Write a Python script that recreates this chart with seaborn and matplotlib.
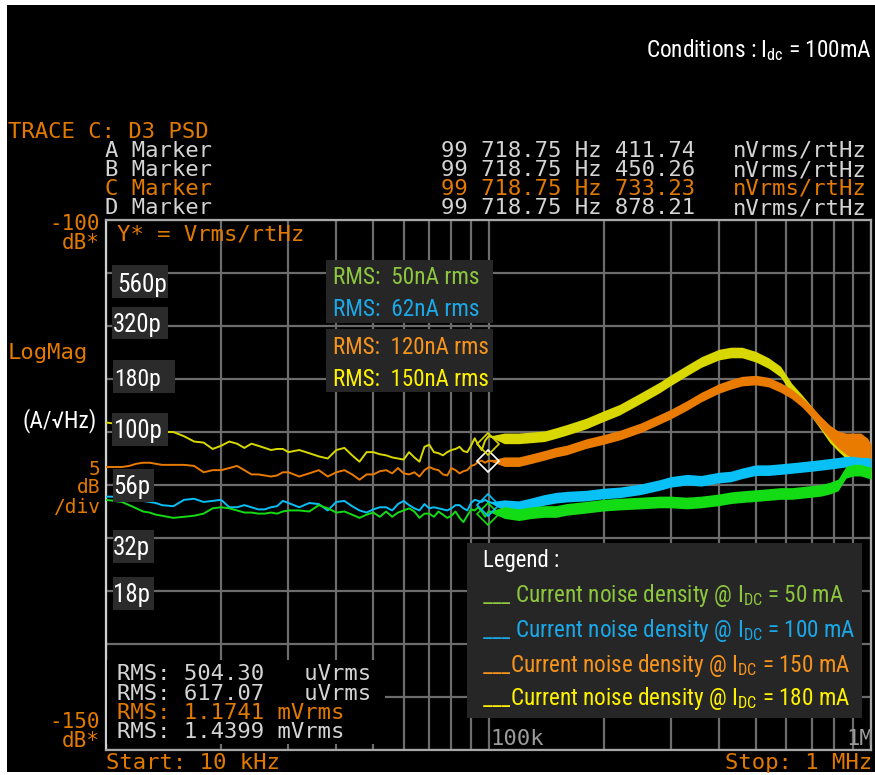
import matplotlib
matplotlib.use("Agg")
import numpy as np
import pandas as pd
import seaborn as sns
import matplotlib.pyplot as plt
from matplotlib.patches import Rectangle
from matplotlib.ticker import FixedLocator
from matplotlib import font_manager as fm

# ---------------- data ----------------
freq_low_khz = [10, 10.5, 11, 11.5, 12, 12.5, 13, 13.5, 14, 15, 16, 17, 18, 19, 20, 21, 22, 23, 24, 25,
                26, 27, 28, 29, 30, 32, 34, 36, 38, 40, 42, 44, 46, 48, 50, 52, 54, 56, 58, 60,
                62, 64, 66, 68, 70, 72, 74, 76, 78, 80, 82, 84, 86, 88, 90, 92, 94, 96, 98, 100]
freq_high_khz = [110, 120, 130, 140, 150, 160, 180, 200, 220, 250, 280, 300, 330, 360, 400, 430,
                 460, 500, 540, 580, 620, 660, 700, 740, 780, 820, 860, 900, 940, 980, 1000]

# trace D (180 mA, yellow), dB Vrms/rtHz
yellow_low_db = [-119.1, -119.2, -119.3, -119.5, -119.6, -119.7, -119.8, -119.9, -120.0, -120.0,
                 -120.4, -120.9, -121.0, -121.6, -121.3, -120.9, -121.1, -121.5, -121.1, -121.3,
                 -121.5, -121.7, -121.6, -121.6, -121.9, -121.7, -122.0, -122.3, -122.5, -121.7,
                 -121.5, -122.2, -122.8, -121.9, -121.9, -122.1, -122.2, -122.4, -122.5, -122.6,
                 -121.9, -122.4, -122.8, -121.4, -121.2, -121.9, -122.0, -122.2, -121.9, -121.7,
                 -121.6, -121.4, -121.8, -121.9, -121.3, -120.6, -121.2, -121.7, -120.8, -120.4]
yellow_high_db = [-120.6, -120.6, -120.5, -120.4, -120.1, -119.8, -119.2, -118.5, -117.9, -116.8,
                  -115.8, -115.1, -114.2, -113.4, -112.7, -112.5, -112.5, -112.9, -113.5, -114.3,
                  -115.9, -117.0, -118.1, -119.3, -120.5, -121.3, -122.0, -122.5, -122.9, -123.3, -123.6]
yellow_spread_db = 0.5

# trace C (150 mA, orange)
orange_low_db = [-123.3, -123.3, -123.3, -123.2, -123.0, -122.9, -122.9, -123.0, -123.1, -123.1,
                 -123.1, -123.2, -123.8, -123.6, -123.6, -123.4, -123.2, -123.6, -124.0, -124.0,
                 -124.1, -124.2, -124.1, -123.8, -123.8, -124.2, -123.9, -123.6, -124.2, -123.8,
                 -123.6, -124.0, -124.5, -124.0, -124.0, -123.7, -123.6, -123.9, -123.4, -123.9,
                 -124.0, -123.8, -124.2, -123.6, -123.3, -123.5, -123.6, -124.0, -124.1, -123.4,
                 -123.6, -123.9, -123.7, -123.6, -123.2, -123.1, -122.8, -122.7, -122.9, -122.7]
orange_high_db = [-122.8, -122.8, -122.5, -122.2, -121.9, -121.7, -121.1, -120.7, -120.3, -119.6,
                  -118.8, -118.3, -117.5, -116.7, -115.9, -115.5, -115.2, -115.1, -115.3, -115.8,
                  -116.4, -117.2, -118.1, -119.1, -120.0, -120.7, -121.1, -121.3, -121.4, -121.9, -122.5]
orange_spread_db = [0.45] * 22 + [0.5, 0.55, 0.65, 0.8, 1.0, 1.2, 1.3, 1.3, 1.3]

# trace B (100 mA, blue)
blue_low_db = [-126.1, -126.1, -126.2, -126.3, -126.4, -126.5, -126.6, -126.7, -126.9, -127.0,
               -126.4, -126.3, -126.6, -126.5, -126.4, -127.1, -127.1, -126.9, -127.1, -127.3,
               -127.3, -127.1, -127.0, -126.5, -126.7, -127.1, -126.7, -126.8, -127.4, -126.6,
               -126.5, -127.0, -127.4, -127.6, -127.3, -127.1, -127.1, -127.4, -126.8, -126.5,
               -126.9, -127.2, -127.4, -126.8, -127.2, -127.1, -127.2, -127.3, -127.4, -127.2,
               -126.9, -126.9, -127.2, -127.4, -126.7, -126.4, -126.5, -126.6, -126.4, -126.6]
blue_high_db = [-126.9, -127.0, -126.7, -126.4, -126.2, -126.1, -126.0, -125.8, -125.7, -125.4,
                -125.0, -124.7, -124.5, -124.6, -124.3, -124.2, -123.9, -123.6, -123.6, -123.5,
                -123.4, -123.3, -123.2, -123.1, -123.0, -122.9, -122.8, -122.8, -122.9, -122.9, -123.0]
blue_spread_db = 0.5

# trace A (50 mA, green)
green_low_db = [-126.4, -126.5, -126.6, -126.9, -127.2, -127.5, -127.6, -127.8, -127.9, -128.1,
                -128.0, -127.9, -127.7, -127.2, -127.1, -127.2, -127.4, -127.6, -127.6, -127.7,
                -127.7, -127.6, -127.7, -127.5, -127.4, -127.4, -127.5, -126.9, -127.2, -127.6,
                -127.5, -127.8, -128.1, -127.8, -127.6, -128.0, -127.5, -128.0, -127.6, -127.4,
                -127.2, -127.5, -128.1, -127.7, -127.7, -128.0, -127.5, -127.8, -128.1, -127.9,
                -127.5, -128.1, -128.5, -127.9, -127.3, -127.4, -127.1, -127.5, -128.0, -127.5]
green_high_db = [-127.6, -127.8, -127.6, -127.5, -127.5, -127.3, -127.1, -126.9, -126.8, -126.7,
                 -126.6, -126.6, -126.7, -126.6, -126.4, -126.2, -126.1, -126.0, -125.9, -125.8,
                 -125.8, -125.7, -125.6, -125.5, -125.3, -125.0, -123.8, -123.6, -123.6, -123.8, -123.9]
green_spread_db = 0.55

marker_freq_hz = 99718.75
marker_names = ["A", "B", "C", "D"]
marker_nv = [411.74, 450.26, 733.23, 878.21]

y_labels = ["560p", "320p", "180p", "100p", "56p", "32p", "18p"]
rms_labels = ["RMS:  50nA rms", "RMS:  62nA rms", "RMS:  120nA rms", "RMS:  150nA rms"]
legend_currents = ["50 mA", "100 mA", "150 mA", "180 mA"]
marker_rows = [("A Marker", "99 718.75 Hz 411.74"), ("B Marker", "99 718.75 Hz 450.26"),
               ("C Marker", "99 718.75 Hz 733.23"), ("D Marker", "99 718.75 Hz 878.21")]
rms_rows = ["RMS: 504.30   uVrms", "RMS: 617.07   uVrms", "RMS: 1.1741 mVrms", "RMS: 1.4399 mVrms"]

# ---------------- fonts ----------------
sns.set_theme(style="dark")
_ttf = fm.fontManager.ttflist
_names = {f.name for f in _ttf}
NARROW_STRETCH = "normal"
if "Roboto Condensed" in _names:
    NARROW_MAIN = "Roboto Condensed"
elif "Liberation Sans Narrow" in _names:
    NARROW_MAIN = "Liberation Sans Narrow"
elif "Noto Sans Condensed" in _names:
    NARROW_MAIN = "Noto Sans Condensed"
elif any(f.name == "Noto Sans" and "condensed" in str(f.stretch) for f in _ttf):
    NARROW_MAIN, NARROW_STRETCH = "Noto Sans", "condensed"
else:
    NARROW_MAIN = "Liberation Sans"
NARROW = [NARROW_MAIN, "DejaVu Sans"]
MONO = ["DejaVu Sans Mono"]

ORANGE_TXT = "#e27a00"
WHITE_TXT = "#d4d4d4"
COL_Y, COL_O, COL_B, COL_G = "#d8d800", "#e87b00", "#08c0f5", "#14dc14"
TXT_G, TXT_B, TXT_O, TXT_Y = "#8dc63f", "#1ba8e8", "#f7941d", "#fff200"

fig = plt.figure(figsize=(8.75, 7.75), dpi=100, facecolor="black")
ax = fig.add_axes([106 / 875, 1 - 750 / 775, 765 / 875, 530 / 775])
ax.set_facecolor("black")

freq_hz = np.array(freq_low_khz + freq_high_khz) * 1e3
traces = [
    (yellow_low_db, yellow_high_db, yellow_spread_db, COL_Y),
    (orange_low_db, orange_high_db, orange_spread_db, COL_O),
    (blue_low_db, blue_high_db, blue_spread_db, COL_B),
    (green_low_db, green_high_db, green_spread_db, COL_G),
]
for i, (lo, hi, spr, col) in enumerate(traces):
    db = np.array(lo + hi)
    spread = np.concatenate([np.zeros(len(lo)), np.broadcast_to(np.asarray(spr, float), (len(hi),))])
    df = pd.DataFrame({"freq": freq_hz, "db": db})
    sns.lineplot(data=df, x="freq", y="db", ax=ax, color=col, linewidth=1.4,
                 estimator=None, sort=False, zorder=3 + i)
    ax.fill_between(freq_hz, db - spread, db + spread, color=col, linewidth=0, zorder=3 + i)

marker_db = 20 * np.log10(np.array(marker_nv) * 1e-9)
marker_cols = [COL_G, COL_B, "white", COL_Y]
for mdb, mc in zip(marker_db, marker_cols):
    ax.plot([marker_freq_hz], [mdb], marker="D", markersize=11, markerfacecolor="none",
            markeredgecolor=mc, markeredgewidth=1.2, zorder=9)

ax.set_xscale("log")
ax.set_xlim(1e4, 1e6)
ax.set_ylim(-150, -100)
ax.xaxis.set_major_locator(FixedLocator([1e4, 1e5, 1e6]))
ax.xaxis.set_minor_locator(FixedLocator([k * 10 ** e for e in (4, 5) for k in range(2, 10)]))
ax.yaxis.set_major_locator(FixedLocator(np.arange(-150, -99, 5)))
ax.grid(True, which="both", color="#6c6c6c", linewidth=1.6)
ax.set_axisbelow(True)
ax.tick_params(axis="x", which="both", length=0, labelbottom=False)
ax.tick_params(axis="y", which="both", length=4, width=1.2, color="#b0b0b0",
               direction="out", labelleft=False)
ax.set_xlabel("")
ax.set_ylabel("")
for side, sp in ax.spines.items():
    sp.set_visible(True)
    sp.set_color("#d0d0d0" if side == "left" else "#a8a8a8")
    sp.set_linewidth(1.6)

# ---------------- overlay in pixel coordinates ----------------
ov = fig.add_axes([0, 0, 1, 1], zorder=10)
ov.set_xlim(0, 875)
ov.set_ylim(775, 0)
ov.axis("off")
ov.patch.set_alpha(0)
renderer = fig.canvas.get_renderer()

def box(x, y, w, h, c):
    ov.add_patch(Rectangle((x, y), w, h, facecolor=c, edgecolor="none", zorder=1))

# white screenshot border
box(0, 0, 875, 5, "white")
box(0, 0, 7, 775, "white")
box(0, 772, 875, 3, "white")

def mono(x, y, s, c, ha="left", size=16):
    ov.text(x, y, s, color=c, family=MONO, fontsize=size, ha=ha, va="baseline", zorder=3)

def narrow(x, y, s, c, width, ha="left", size=17):
    t = ov.text(x, y, s, color=c, family=NARROW, fontstretch=NARROW_STRETCH, fontsize=size,
                ha=ha, va="baseline", zorder=3)
    w = t.get_window_extent(renderer=renderer).width
    if w > 0:
        t.set_fontsize(size * width / w)
    return t

# condition note
narrow(872, 57, r"Conditions : $\mathregular{I_{dc}}$ = 100mA", "white", 226, ha="right", size=18)

# instrument header
mono(8, 138, "TRACE C: D3 PSD", ORANGE_TXT)
row_cols = [WHITE_TXT, WHITE_TXT, ORANGE_TXT, WHITE_TXT]
for k, ((lab, val), rc) in enumerate(zip(marker_rows, row_cols)):
    yb = 157 + 19 * k
    mono(105, yb, lab, rc)
    mono(441, yb, val, rc)
    mono(733, yb, "nVrms/rtHz", rc)

# left instrument scale
mono(100, 230, "-100", ORANGE_TXT, ha="right", size=15)
mono(100, 249, "dB*", ORANGE_TXT, ha="right", size=15)
mono(117, 240, "Y* = Vrms/rtHz", ORANGE_TXT)
mono(8, 359, "LogMag", ORANGE_TXT)
mono(100, 475, "5", ORANGE_TXT, ha="right", size=14)
mono(100, 493, "dB", ORANGE_TXT, ha="right", size=14)
mono(100, 513, "/div", ORANGE_TXT, ha="right", size=14)
mono(100, 728, "-150", ORANGE_TXT, ha="right", size=15)
mono(100, 747, "dB*", ORANGE_TXT, ha="right", size=15)

# bottom readouts
box(107, 660, 278, 84, "black")
rms_cols = [WHITE_TXT, WHITE_TXT, ORANGE_TXT, WHITE_TXT]
for k, (s, c) in enumerate(zip(rms_rows, rms_cols)):
    mono(117, 680 + 19.5 * k, s, c)
mono(490, 745, "100k", "#9a9a9a")
mono(846, 745, "1M", "#9a9a9a")
mono(106, 769, "Start: 10 kHz", ORANGE_TXT)
mono(872, 769, "Stop: 1 MHz", ORANGE_TXT, ha="right")

# y value labels: (box x, box y, box w, box h, text x, baseline, text width)
label_boxes = [(112, 265, 56, 33, 117, 292, 50), (112, 307, 56, 32, 113, 332, 49),
               (113, 360, 62, 33, 114, 386, 47), (112, 413, 56, 33, 113, 438, 49),
               (113, 469, 41, 33, 113, 494, 37), (113, 530, 41, 33, 113, 555, 37),
               (113, 577, 41, 33, 113, 602, 37)]
for lab, (bx, by, bw, bh, tx, base, tw) in zip(y_labels, label_boxes):
    box(bx, by, bw, bh, "#2b2b2b")
    narrow(tx, base, lab, "white", tw)
narrow(22, 427, "(A/\u221aHz)", "white", 74)

# RMS boxes
box(326, 260, 167, 63, "#262626")
box(326, 329, 167, 63, "#262626")
rms_txt_cols = [TXT_G, TXT_B, TXT_O, TXT_Y]
for s, c, yb, tw in zip(rms_labels, rms_txt_cols, [284, 316, 354, 386], [146, 146, 156, 156]):
    narrow(333, yb, s, c, tw)

# legend box
box(467, 543, 395, 175, "#262626")
narrow(483, 567, "Legend :", "white", 76)
prefixes = ["___ ", "___ ", "___", "___"]
for cur, c, pre, yb, tw in zip(legend_currents, rms_txt_cols, prefixes,
                               [602, 637, 672, 705], [363, 373, 369, 369]):
    narrow(482, yb, pre + r"Current noise density @ $\mathregular{I_{DC}}$ = " + cur, c, tw)

fig.savefig("out.png", dpi=100, facecolor="black")
